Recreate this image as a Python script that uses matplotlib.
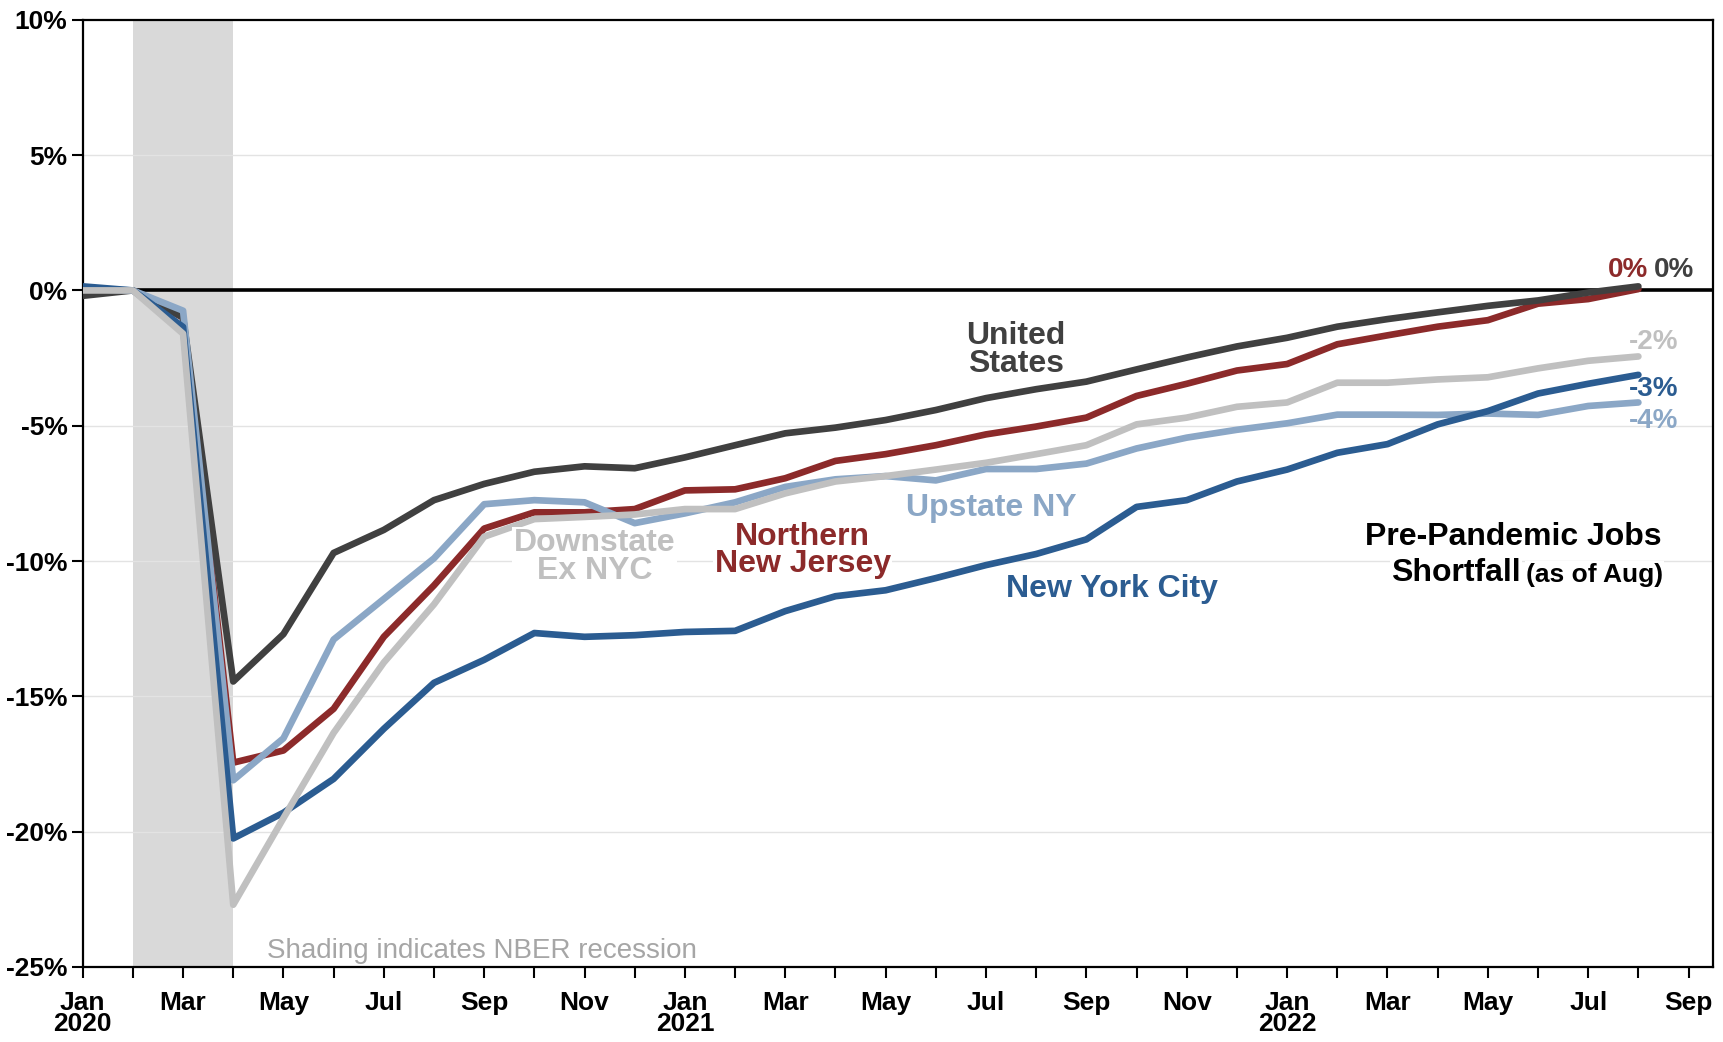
import matplotlib
matplotlib.use("Agg")
import matplotlib.pyplot as plt
import numpy as np

plt.rcParams["font.family"] = ["Liberation Sans", "DejaVu Sans"]

# Monthly index: 0 = Jan 2020 ... 31 = Aug 2022; % change vs Feb 2020
us = [-0.2, 0.0, -1.0, -14.45, -12.7, -9.7, -8.85, -7.75, -7.15, -6.7, -6.5, -6.57,
      -6.17, -5.72, -5.28, -5.07, -4.79, -4.42, -3.98, -3.65, -3.37, -2.92, -2.48, -2.07,
      -1.75, -1.34, -1.06, -0.81, -0.57, -0.37, -0.08, 0.15]
northern_nj = [0.0, 0.0, -1.0, -17.45, -17.0, -15.46, -12.8, -10.9, -8.8, -8.2, -8.2, -8.08,
               -7.39, -7.35, -6.94, -6.3, -6.05, -5.72, -5.32, -5.03, -4.7, -3.9, -3.45, -2.96,
               -2.72, -1.99, -1.66, -1.34, -1.1, -0.49, -0.32, 0.05]
upstate = [0.05, 0.0, -0.75, -18.1, -16.55, -12.9, -11.4, -9.9, -7.9, -7.75, -7.83, -8.6,
           -8.24, -7.83, -7.26, -6.98, -6.86, -7.02, -6.6, -6.6, -6.4, -5.84, -5.44, -5.15,
           -4.91, -4.59, -4.59, -4.6, -4.55, -4.6, -4.27, -4.14]
downstate = [0.0, 0.0, -1.6, -22.7, -19.5, -16.35, -13.75, -11.6, -9.1, -8.45, -8.37, -8.28,
             -8.08, -8.08, -7.5, -7.06, -6.86, -6.62, -6.37, -6.05, -5.72, -4.95, -4.7, -4.3,
             -4.14, -3.41, -3.41, -3.29, -3.21, -2.88, -2.6, -2.44]
nyc = [0.15, 0.0, -1.35, -20.25, -19.3, -18.05, -16.2, -14.5, -13.65, -12.66, -12.8, -12.74,
       -12.62, -12.58, -11.85, -11.3, -11.08, -10.63, -10.15, -9.74, -9.2, -8.0, -7.75, -7.06,
       -6.62, -6.0, -5.68, -4.95, -4.46, -3.81, -3.45, -3.12]

month_labels = ["Jan\n2020", "Mar", "May", "Jul", "Sep", "Nov",
                "Jan\n2021", "Mar", "May", "Jul", "Sep", "Nov",
                "Jan\n2022", "Mar", "May", "Jul", "Sep"]
y_ticks = [-25, -20, -15, -10, -5, 0, 5, 10]
end_labels = {"us": "0%", "nj": "0%", "down": "-2%", "nyc": "-3%", "up": "-4%"}

C_US = "#404040"
C_NJ = "#8C2A2A"
C_UP = "#8BA7C6"
C_DOWN = "#C0C0C0"
C_NYC = "#2B5C91"

fig = plt.figure(figsize=(17.23, 10.42), dpi=100)
ax = fig.add_axes([0.048, 0.072, 0.946, 0.909])

x = np.arange(len(us))
ax.axvspan(1, 3, color="#D9D9D9", zorder=0, lw=0)
for v in y_ticks:
    if v not in (0, 10, -25):
        ax.axhline(v, color="#E3E3E3", lw=1.0, zorder=1)
ax.axhline(0, color="black", lw=2.6, zorder=2)

lw = 4.8
ax.plot(x, northern_nj, color=C_NJ, lw=lw, zorder=3, solid_capstyle="round")
ax.plot(x, us, color=C_US, lw=lw, zorder=3, solid_capstyle="round")
ax.plot(x, upstate, color=C_UP, lw=lw, zorder=4, solid_capstyle="round")
ax.plot(x, nyc, color=C_NYC, lw=lw, zorder=4, solid_capstyle="round")
ax.plot(x, downstate, color=C_DOWN, lw=lw, zorder=5, solid_capstyle="round")

ax.set_xlim(0, 32.48)
ax.set_ylim(-25, 10)
ax.set_xticks(np.arange(0, 33, 2))
ax.set_xticklabels(month_labels)
ax.set_xticks(np.arange(0, 33, 1), minor=True)
ax.set_yticks(y_ticks)
ax.set_yticklabels([f"{v}%" for v in y_ticks])
ax.tick_params(axis="both", which="both", direction="out", length=8, width=1.5,
               labelsize=19)
ax.tick_params(axis="x", which="major", length=8, pad=9)
ax.tick_params(axis="y", pad=3)
for lab in ax.get_xticklabels() + ax.get_yticklabels():
    lab.set_fontweight("bold")
for lab in ax.get_xticklabels():
    lab.set_linespacing(0.88)
for sp in ax.spines.values():
    sp.set_linewidth(1.6)

box = dict(facecolor="white", edgecolor="none", pad=1)
lab_kw = dict(fontsize=23, fontweight="bold", ha="center", va="center",
              linespacing=0.88, zorder=6)
ax.text(18.6, -2.2, "United\nStates", color=C_US, **lab_kw)
ax.text(18.1, -8.05, "Upstate NY", color=C_UP, bbox=box, **lab_kw)
ax.text(14.35, -9.6, "Northern\nNew Jersey", color=C_NJ, bbox=box, **lab_kw)
ax.text(10.2, -9.85, "Downstate\nEx NYC", color=C_DOWN, bbox=box, **lab_kw)
ax.text(20.5, -11.05, "New York City", color=C_NYC, bbox=box, **lab_kw)

ax.text(28.5, -9.13, "Pre-Pandemic Jobs", color="black", fontsize=23,
        fontweight="bold", ha="center", va="center", bbox=box, zorder=6)
ax.text(28.66, -10.43, "Shortfall", color="black", fontsize=23,
        fontweight="bold", ha="right", va="center", bbox=box, zorder=6)
ax.text(28.76, -10.5, "(as of Aug)", color="black", fontsize=19,
        fontweight="bold", ha="left", va="center", bbox=box, zorder=6)

end_kw = dict(fontsize=20, fontweight="bold", ha="center", va="center", zorder=6)
ax.text(30.8, 0.75, end_labels["nj"], color=C_NJ, **end_kw)
ax.text(31.7, 0.75, end_labels["us"], color=C_US, **end_kw)
ax.text(31.3, -1.9, end_labels["down"], color=C_DOWN, **end_kw)
ax.text(31.3, -3.65, end_labels["nyc"], color=C_NYC, **end_kw)
ax.text(31.3, -4.83, end_labels["up"], color=C_UP, **end_kw)

ax.text(3.68, -24.4, "Shading indicates NBER recession", color="#A6A6A6",
        fontsize=20, ha="left", va="center", zorder=6)

fig.savefig("out.png", dpi=100)
